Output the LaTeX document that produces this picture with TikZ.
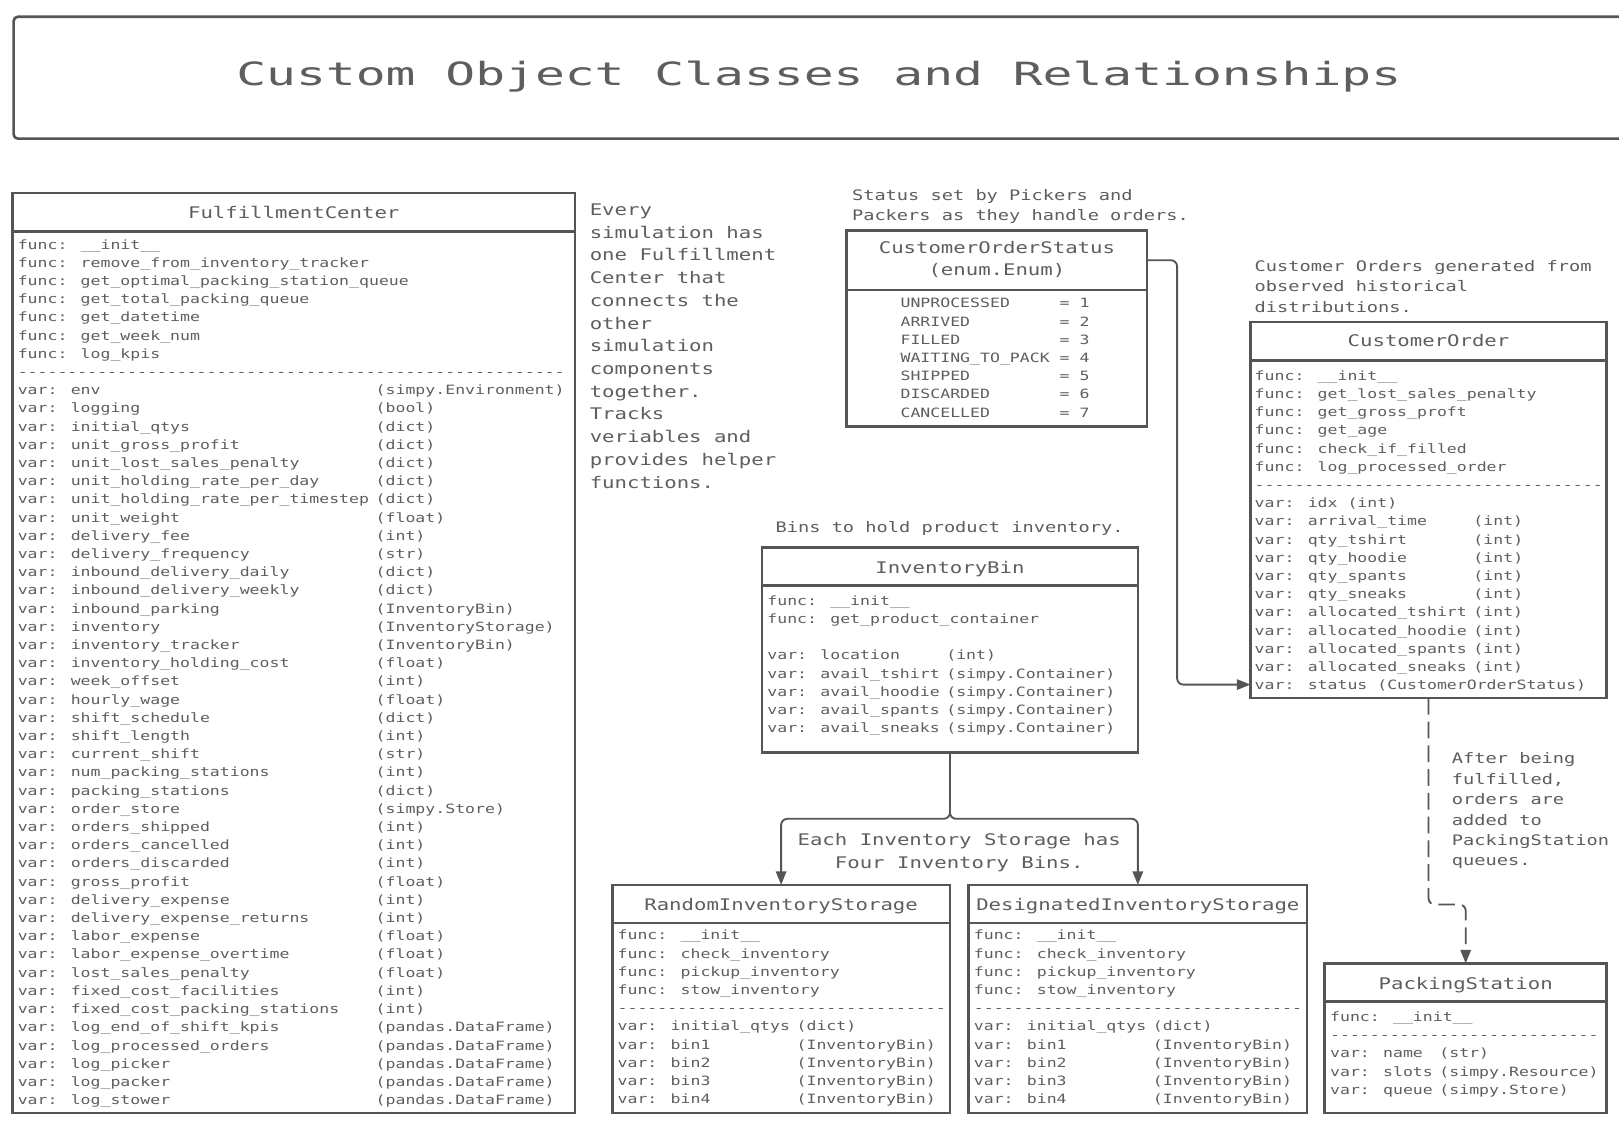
\documentclass[tikz,border=0pt]{standalone}
\usepackage{fontspec}
\usetikzlibrary{arrows.meta}
\newfontfamily\monof{DejaVu Sans Mono}[FakeStretch=1.29]
\newfontfamily\titlemono{DejaVu Sans Mono}[FakeStretch=1.55]
\definecolor{ink}{HTML}{555555}
\definecolor{txt}{HTML}{5E5E5E}
\newlength\cw
\setlength\cw{9.63pt}
\newcommand\fixsp[1]{\fontdimen2\font=#1\fontdimen3\font=0pt\fontdimen4\font=0pt\relax}
\newcommand\bodyf{\monof\fontsize{12.4}{17.63}\selectfont\fixsp{9.63pt}}
\newcommand\headf{\monof\fontsize{15.5}{22}\selectfont\fixsp{12.04pt}}
\newcommand\notef{\monof\fontsize{14}{19.8}\selectfont\fixsp{10.87pt}}
\newcommand\titlef{\titlemono\fontsize{31}{37}\selectfont\fixsp{28.93pt}}
\newcount\hcnt
\newcommand\hyph[1]{\hcnt=0\relax\loop\ifnum\hcnt<#1\relax\makebox[\cw][l]{-}\advance\hcnt by 1\relax\repeat}
\newcommand\V[3]{\makebox[#1\cw][l]{var: #2}#3}
\newcommand\W[2]{\V{36}{#1}{#2}}
\newcommand\E[2]{\makebox[16\cw][l]{#1}= #2}
\newcommand\fr[1]{\rule{0pt}{#1}}
\tikzset{
  cls/.style={draw=ink, line width=2.5pt, fill=white, rectangle, inner sep=0pt, outer sep=0pt, anchor=north west},
  divl/.style={draw=ink, line width=2.5pt},
  hd/.style={font=\headf, text=txt, anchor=base, inner sep=0pt},
  bd/.style={font=\bodyf, text=txt, align=left, anchor=north west, inner sep=0pt},
  note/.style={font=\notef, text=txt, align=left, anchor=north west, inner sep=0pt},
  bignote/.style={font=\headf, text=txt, anchor=north west, inner sep=0pt},
  conn/.style={draw=ink, line width=1.8pt, -{Triangle[length=13pt,width=10pt]}, rounded corners=6pt},
}
\begin{document}
\begin{tikzpicture}[x=1pt,y=-1pt]
\useasboundingbox (0,0) rectangle (1568,1087);
\clip (0,0) rectangle (1568,1087);
\fill[white] (0,0) rectangle (1568,1087);

% title
\node[draw=ink, line width=2.5pt, rounded corners=4pt, minimum width=1608pt, minimum height=118pt, anchor=north west, inner sep=0pt] (titlebox) at (12,15) {};
\node[font=\titlef, text=txt, anchor=base, inner sep=0pt] (titletext) at (793,83) {Custom Object Classes and Relationships};

% FulfillmentCenter
\node[cls, minimum width=545pt, minimum height=891pt] (fc) at (12,187) {};
\draw[divl] ([yshift=-37pt]fc.north west) -- ([yshift=-37pt]fc.north east);
\node[hd] (fch) at (284.5,212) {FulfillmentCenter};
\node[bd] (fcb) at (17,231) {\fr{10pt}func: \_\_init\_\_\\
func: remove\_from\_inventory\_tracker\\
func: get\_optimal\_packing\_station\_queue\\
func: get\_total\_packing\_queue\\
func: get\_datetime\\
func: get\_week\_num\\
func: log\_kpis\\
\hyph{55}\\
\W{env}{(simpy.Environment)}\\
\W{logging}{(bool)}\\
\W{initial\_qtys}{(dict)}\\
\W{unit\_gross\_profit}{(dict)}\\
\W{unit\_lost\_sales\_penalty}{(dict)}\\
\W{unit\_holding\_rate\_per\_day}{(dict)}\\
\W{unit\_holding\_rate\_per\_timestep}{(dict)}\\
\W{unit\_weight}{(float)}\\
\W{delivery\_fee}{(int)}\\
\W{delivery\_frequency}{(str)}\\
\W{inbound\_delivery\_daily}{(dict)}\\
\W{inbound\_delivery\_weekly}{(dict)}\\
\W{inbound\_parking}{(InventoryBin)}\\
\W{inventory}{(InventoryStorage)}\\
\W{inventory\_tracker}{(InventoryBin)}\\
\W{inventory\_holding\_cost}{(float)}\\
\W{week\_offset}{(int)}\\
\W{hourly\_wage}{(float)}\\
\W{shift\_schedule}{(dict)}\\
\W{shift\_length}{(int)}\\
\W{current\_shift}{(str)}\\
\W{num\_packing\_stations}{(int)}\\
\W{packing\_stations}{(dict)}\\
\W{order\_store}{(simpy.Store)}\\
\W{orders\_shipped}{(int)}\\
\W{orders\_cancelled}{(int)}\\
\W{orders\_discarded}{(int)}\\
\W{gross\_profit}{(float)}\\
\W{delivery\_expense}{(int)}\\
\W{delivery\_expense\_returns}{(int)}\\
\W{labor\_expense}{(float)}\\
\W{labor\_expense\_overtime}{(float)}\\
\W{lost\_sales\_penalty}{(float)}\\
\W{fixed\_cost\_facilities}{(int)}\\
\W{fixed\_cost\_packing\_stations}{(int)}\\
\W{log\_end\_of\_shift\_kpis}{(pandas.DataFrame)}\\
\W{log\_processed\_orders}{(pandas.DataFrame)}\\
\W{log\_picker}{(pandas.DataFrame)}\\
\W{log\_packer}{(pandas.DataFrame)}\\
\W{log\_stower}{(pandas.DataFrame)}};

% note for FulfillmentCenter
\node[bignote, align=left] (fcnote) at (571,196.5) {\fr{12pt}Every\\simulation has\\one Fulfillment\\Center that\\connects the\\other\\simulation\\components\\together.\\Tracks\\veriables and\\provides helper\\functions.};

% CustomerOrderStatus
\node[note] (cosnote) at (825,183) {\fr{11pt}Status set by Pickers and\\Packers as they handle orders.};
\node[cls, minimum width=291pt, minimum height=190pt] (cos) at (820,223) {};
\draw[divl] ([yshift=-58pt]cos.north west) -- ([yshift=-58pt]cos.north east);
\node[font=\headf, text=txt, align=center, anchor=north, inner sep=0pt] (cosh) at (965.5,233) {\fr{12pt}CustomerOrderStatus\\(enum.Enum)};
\node[bd] (cosb) at (872,288) {\fr{10pt}\E{UNPROCESSED}{1}\\
\E{ARRIVED}{2}\\
\E{FILLED}{3}\\
\E{WAITING\_TO\_PACK}{4}\\
\E{SHIPPED}{5}\\
\E{DISCARDED}{6}\\
\E{CANCELLED}{7}};

% CustomerOrder
\node[note] (conote) at (1215,251.5) {\fr{11pt}Customer Orders generated from\\observed historical\\distributions.};
\node[cls, minimum width=345pt, minimum height=364pt] (co) at (1211,312) {};
\draw[divl] ([yshift=-37pt]co.north west) -- ([yshift=-37pt]co.north east);
\node[hd] (coh) at (1383.5,336) {CustomerOrder};
\node[bd] (cob) at (1215,358) {\fr{10pt}func: \_\_init\_\_\\
func: get\_lost\_sales\_penalty\\
func: get\_gross\_proft\\
func: get\_age\\
func: check\_if\_filled\\
func: log\_processed\_order\\
\hyph{35}\\
var: idx (int)\\
\V{22}{arrival\_time}{(int)}\\
\V{22}{qty\_tshirt}{(int)}\\
\V{22}{qty\_hoodie}{(int)}\\
\V{22}{qty\_spants}{(int)}\\
\V{22}{qty\_sneaks}{(int)}\\
\V{22}{allocated\_tshirt}{(int)}\\
\V{22}{allocated\_hoodie}{(int)}\\
\V{22}{allocated\_spants}{(int)}\\
\V{22}{allocated\_sneaks}{(int)}\\
var: status (CustomerOrderStatus)};

% InventoryBin
\node[note] (ibnote) at (751,504.5) {\fr{11pt}Bins to hold product inventory.};
\node[cls, minimum width=364pt, minimum height=199pt] (ib) at (738,530) {};
\draw[divl] ([yshift=-37pt]ib.north west) -- ([yshift=-37pt]ib.north east);
\node[hd] (ibh) at (920,555) {InventoryBin};
\node[bd] (ibb) at (743,576) {\fr{10pt}func: \_\_init\_\_\\
func: get\_product\_container\\
\mbox{}\\
\V{18}{location}{(int)}\\
\V{18}{avail\_tshirt}{(simpy.Container)}\\
\V{18}{avail\_hoodie}{(simpy.Container)}\\
\V{18}{avail\_spants}{(simpy.Container)}\\
\V{18}{avail\_sneaks}{(simpy.Container)}};

% Storages
\node[cls, minimum width=327pt, minimum height=221pt] (rand) at (593,857) {};
\draw[divl] ([yshift=-37pt]rand.north west) -- ([yshift=-37pt]rand.north east);
\node[hd] (randh) at (756.5,882) {RandomInventoryStorage};
\node[bd] (randb) at (598,900) {\fr{10pt}func: \_\_init\_\_\\
func: check\_inventory\\
func: pickup\_inventory\\
func: stow\_inventory\\
\hyph{33}\\
\V{18}{initial\_qtys}{(dict)}\\
\V{18}{bin1}{(InventoryBin)}\\
\V{18}{bin2}{(InventoryBin)}\\
\V{18}{bin3}{(InventoryBin)}\\
\V{18}{bin4}{(InventoryBin)}};

\node[cls, minimum width=328pt, minimum height=221pt] (des) at (938,857) {};
\draw[divl] ([yshift=-37pt]des.north west) -- ([yshift=-37pt]des.north east);
\node[hd] (desh) at (1102,882) {DesignatedInventoryStorage};
\node[bd] (desb) at (943,900) {\fr{10pt}func: \_\_init\_\_\\
func: check\_inventory\\
func: pickup\_inventory\\
func: stow\_inventory\\
\hyph{33}\\
\V{18}{initial\_qtys}{(dict)}\\
\V{18}{bin1}{(InventoryBin)}\\
\V{18}{bin2}{(InventoryBin)}\\
\V{18}{bin3}{(InventoryBin)}\\
\V{18}{bin4}{(InventoryBin)}};

\node[font=\headf, text=txt, align=center, anchor=north, inner sep=0pt] (splitnote) at (929,807) {\fr{12pt}Each Inventory Storage has\\Four Inventory Bins.};

% PackingStation
\node[cls, minimum width=273pt, minimum height=145pt] (ps) at (1283,933) {};
\draw[divl] ([yshift=-37pt]ps.north west) -- ([yshift=-37pt]ps.north east);
\node[hd] (psh) at (1419.5,958) {PackingStation};
\node[bd] (psb) at (1288,979) {\fr{10pt}func: \_\_init\_\_\\
\hyph{27}\\
\V{11}{name}{(str)}\\
\V{11}{slots}{(simpy.Resource)}\\
\V{11}{queue}{(simpy.Store)}};

\node[note] (psnote) at (1406,728.5) {\fr{11pt}After being\\fulfilled,\\orders are\\added to\\PackingStation\\queues.};

% connectors
\coordinate (split) at (920,793);
\coordinate (dbend) at (1400,876);
\draw[conn] ([yshift=-29pt]cos.north east) -- ++(29,0) |- ([yshift=-351pt]co.north west);
\draw[conn] (ib.south) |- (rand.north |- split) -- (rand.north);
\draw[conn] (ib.south) |- (des.north |- split) -- (des.north);
\draw[conn, dash pattern=on 16pt off 7pt] (co.south) |- (ps.north |- dbend) -- (ps.north);
\end{tikzpicture}
\end{document}
